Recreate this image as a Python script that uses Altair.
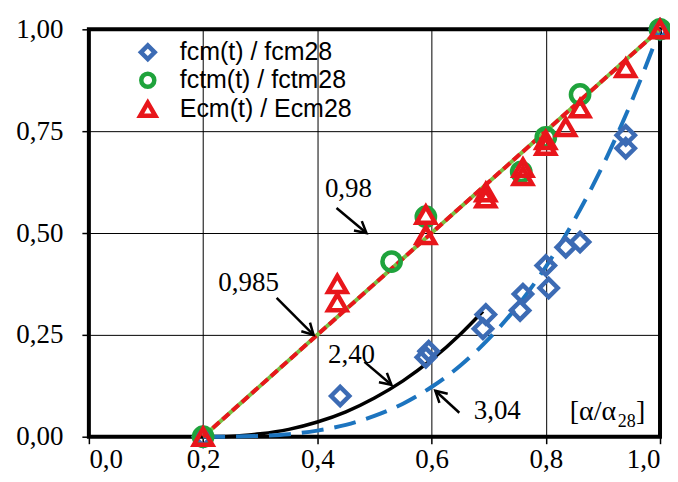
import math
import altair as alt
import pandas as pd

# ---------------- data ----------------
series_names = ["fcm(t) / fcm28", "fctm(t) / fctm28", "Ecm(t) / Ecm28"]

fcm_x = [0.20, 0.44, 0.59, 0.595, 0.695, 0.69, 0.76, 0.755, 0.80, 0.805, 0.835, 0.86, 0.94, 0.94, 1.00]
fcm_y = [0.00, 0.10, 0.195, 0.21, 0.30, 0.265, 0.35, 0.31, 0.42, 0.365, 0.465, 0.478, 0.74, 0.708, 1.00]

fctm_x = [0.20, 0.53, 0.59, 0.757, 0.80, 0.86, 1.00]
fctm_y = [0.00, 0.43, 0.54, 0.65, 0.735, 0.84, 1.00]

ecm_x = [0.20, 0.435, 0.435, 0.59, 0.59, 0.695, 0.695, 0.76, 0.76, 0.80, 0.80, 0.835, 0.86, 0.94, 1.00]
ecm_y = [0.00, 0.375, 0.33, 0.545, 0.495, 0.60, 0.585, 0.66, 0.64, 0.728, 0.714, 0.76, 0.806, 0.905, 1.00]

# fitted curves
lin_x = [0.20, 0.40, 0.60, 0.80, 1.00]
lin_y = [0.00, 0.25, 0.50, 0.75, 1.00]

blk_x = [0.20, 0.25, 0.30, 0.35, 0.40, 0.45, 0.50, 0.55, 0.60, 0.65, 0.69]
blk_y = [0.000, 0.001, 0.007, 0.018, 0.036, 0.061, 0.095, 0.137, 0.189, 0.251, 0.308]

blu_x = [0.20, 0.25, 0.30, 0.35, 0.40, 0.45, 0.50, 0.55, 0.60, 0.65, 0.70, 0.75, 0.80, 0.85, 0.90, 0.95, 1.00]
blu_y = [0.000, 0.0002, 0.002, 0.006, 0.015, 0.029, 0.051, 0.081, 0.122, 0.174, 0.240, 0.320, 0.417, 0.532, 0.666, 0.822, 1.000]

# annotations
ann_text = ["0,98", "0,985", "2,40", "3,04"]
ann_x = [0.4545, 0.2797, 0.4598, 0.715]
ann_y = [0.608, 0.3775, 0.201, 0.0637]

arr_x0 = [0.4336, 0.3287, 0.4825, 0.6486]
arr_y0 = [0.5613, 0.3407, 0.1838, 0.0588]
arr_x1 = [0.4860, 0.3934, 0.5297, 0.6066]
arr_y1 = [0.5000, 0.2500, 0.1275, 0.1127]

unit_parts = ["[α/α", "28", "]"]
unit_x = [0.842, 0.926, 0.958]
unit_y = [0.040, 0.024, 0.040]
unit_size = [28, 18, 28]

x_ticks = [0.0, 0.2, 0.4, 0.6, 0.8, 1.0]
y_ticks = [0.0, 0.25, 0.5, 0.75, 1.0]

# ---------------- styling ----------------
W, H = 572, 408
series_colors = ["#3c6bb4", "#1fa33c", "#e8161b"]
series_shapes = ["diamond", "circle", "triangle-up"]
series_sizes = [330, 340, 450]
legend_sizes = [190, 170, 230]
legend_sym_x = 59
legend_txt_x = 91
legend_row_y = [23, 51, 80]

xs = alt.Scale(domain=[0, 1], nice=False, zero=False)
ys = alt.Scale(domain=[0, 1], nice=False, zero=False)

x_axis = alt.Axis(values=x_ticks, labelExpr="replace(format(datum.value, '.1f'), '.', ',')",
                  grid=True, gridColor="black", gridWidth=1, gridOpacity=1, domain=False,
                  ticks=True, tickColor="black", tickSize=7, tickWidth=1.5,
                  labelFont="Liberation Serif", labelFontSize=27, labelColor="black",
                  labelPadding=3, title=None)
y_axis = alt.Axis(values=y_ticks, labelExpr="replace(format(datum.value, '.2f'), '.', ',')",
                  grid=True, gridColor="black", gridWidth=1, gridOpacity=1, domain=False,
                  ticks=True, tickColor="black", tickSize=7, tickWidth=1.5,
                  labelFont="Liberation Serif", labelFontSize=27, labelColor="black",
                  labelPadding=19, title=None)


def X(f):
    return alt.X(f, type="quantitative", scale=xs, axis=x_axis)


def Y(f):
    return alt.Y(f, type="quantitative", scale=ys, axis=y_axis)


# ---------------- tables ----------------
pts = pd.concat([
    pd.DataFrame({"series": series_names[0], "x": fcm_x, "y": fcm_y}),
    pd.DataFrame({"series": series_names[1], "x": fctm_x, "y": fctm_y}),
    pd.DataFrame({"series": series_names[2], "x": ecm_x, "y": ecm_y}),
], ignore_index=True)
pts["ord"] = range(len(pts))

lin = pd.DataFrame({"x": lin_x, "y": lin_y})
blk = pd.DataFrame({"x": blk_x, "y": blk_y})
blu = pd.DataFrame({"x": blu_x, "y": blu_y})

ann = pd.DataFrame({"t": ann_text, "x": ann_x, "y": ann_y})
angles = [
    math.degrees(math.atan2(-(b1 - b0) * H, (a1 - a0) * W)) % 360
    for a0, b0, a1, b1 in zip(arr_x0, arr_y0, arr_x1, arr_y1)
]
arr = pd.DataFrame({"x": arr_x0, "y": arr_y0, "x2": arr_x1, "y2": arr_y1, "ang": angles})
unit = pd.DataFrame({"t": unit_parts, "x": unit_x, "y": unit_y, "s": unit_size})

# ---------------- layers ----------------
black_curve = alt.Chart(blk).mark_line(color="black", strokeWidth=3.5, interpolate="monotone").encode(
    x=X("x"), y=Y("y"))
blue_curve = alt.Chart(blu).mark_line(color="#1c74bf", strokeWidth=4, strokeDash=[22, 11],
                                      interpolate="monotone").encode(x=X("x"), y=Y("y"))
green_line = alt.Chart(lin).mark_line(color="#79c043", strokeWidth=4).encode(x=X("x"), y=Y("y"))
red_line = alt.Chart(lin).mark_line(color="#e8161b", strokeWidth=4, strokeDash=[9, 4]).encode(
    x=X("x"), y=Y("y"))

points = alt.Chart(pts).mark_point(filled=False, strokeWidth=4.5, opacity=1).encode(
    x=X("x"), y=Y("y"),
    color=alt.Color("series:N", scale=alt.Scale(domain=series_names, range=series_colors), legend=None),
    shape=alt.Shape("series:N", scale=alt.Scale(domain=series_names, range=series_shapes), legend=None),
    size=alt.Size("series:N", scale=alt.Scale(domain=series_names, range=series_sizes), legend=None),
    order=alt.Order("ord:Q"),
)

arrow_lines = alt.Chart(arr).mark_rule(color="black", strokeWidth=2.5).encode(
    x=X("x"), y=Y("y"), x2="x2", y2="y2")
arrow_heads = alt.Chart(arr).mark_point(shape="M -1 -0.55 L 0 0 L -1 0.55", filled=False,
                                        color="black", strokeWidth=2.5, size=500, opacity=1).encode(
    x=X("x2"), y=Y("y2"), angle=alt.Angle("ang:Q", scale=None))

labels = alt.Chart(ann).mark_text(font="Liberation Serif", fontSize=27, color="black",
                                  align="center", baseline="middle").encode(
    x=X("x"), y=Y("y"), text="t:N")

unit_txt = alt.Chart(unit).mark_text(font="Liberation Serif", color="black",
                                     align="left", baseline="alphabetic").encode(
    x=X("x"), y=Y("y"), text="t:N", size=alt.Size("s:Q", scale=None, legend=None))

# manual legend (inside the plot, top-left)
legend_layers = []
for name, col, shp, sz, ry in zip(series_names, series_colors, series_shapes, legend_sizes, legend_row_y):
    row = pd.DataFrame({"label": [name]})
    legend_layers.append(
        alt.Chart(row).mark_point(filled=False, strokeWidth=4.5, opacity=1, color=col,
                                  shape=shp, size=sz).encode(
            x=alt.value(legend_sym_x), y=alt.value(ry)))
    legend_layers.append(
        alt.Chart(row).mark_text(font="Liberation Sans", fontSize=25, color="black",
                                 align="left", baseline="middle").encode(
            x=alt.value(legend_txt_x), y=alt.value(ry), text="label:N"))

chart = alt.layer(
    black_curve, blue_curve, green_line, red_line, points,
    arrow_lines, arrow_heads, labels, unit_txt, *legend_layers
).properties(
    width=W, height=H,
    autosize=alt.AutoSizeParams(type="none"),
    padding={"left": 81, "top": 21, "right": 10, "bottom": 40},
    background="white",
).configure_view(stroke="black", strokeWidth=4)

chart.save("out.html", embed_options={"renderer": "svg", "actions": False})
